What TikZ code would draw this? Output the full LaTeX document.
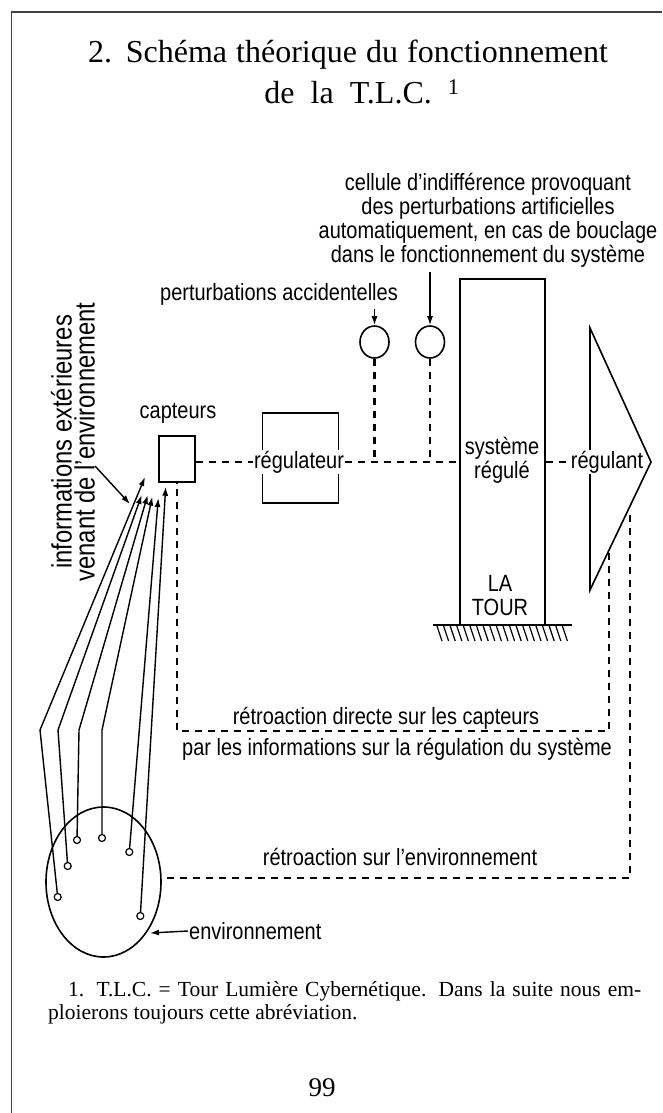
\documentclass[tikz,border=0pt]{standalone}
\usepackage{fontspec}
\setmainfont{Liberation Serif}
\setsansfont{Liberation Sans}
\newfontfamily\lblfont[FakeStretch=0.85]{Liberation Sans}
\usetikzlibrary{arrows.meta,shapes.geometric}
\begin{document}
\begin{tikzpicture}[x=1pt,y=-1pt,
  lbl/.style={font=\lblfont\fontsize{23.5}{24}\selectfont, inner sep=1pt},
  ln/.style={line width=1.6pt},
  dsh/.style={line width=2.2pt, dash pattern=on 7pt off 6pt},
  arr/.style={line width=1.4pt, -{Latex[length=9pt,width=6pt]}},
  term/.style={draw, circle, line width=1.2pt, minimum size=7pt, inner sep=0pt, fill=white},
  smallc/.style={draw, ln, ellipse, minimum width=29pt, minimum height=32pt, inner sep=0pt}
]
\path[use as bounding box] (0,0) rectangle (662,1113);
% frame
\draw[line width=1.5pt, black!75] (662,12) -- (11.5,12) -- (11.5,1113);

% title
\node[font=\fontsize{32}{36}\selectfont, anchor=base] (t1) at (348,63) {\makebox[520pt][s]{2. Schéma théorique du fonctionnement}};
\node[font=\fontsize{32}{36}\selectfont, anchor=base] (t2) at (362,104) {de\ \ la\ \ T.L.C.\ \ \textsuperscript{1}};

% labels at top
\node[lbl, align=center] (cel) at (488,220) {cellule d’indifférence provoquant\\des perturbations artificielles\\automatiquement, en cas de bouclage\\dans le fonctionnement du système};
\node[lbl] (pa) at (279,294) {perturbations accidentelles};

% perturbation cells
\node[smallc] (c1) at (374.5,342) {};
\node[smallc] (c2) at (430,342) {};
\draw[arr] ([yshift=-3pt]c1 |- pa.south) -- (c1.north);
\draw[arr] ([yshift=-4pt]c2 |- cel.south) -- (c2.north);

% capteurs
\node[draw, ln, minimum width=36pt, minimum height=46pt, inner sep=0pt] (cap) at (177,459) {};
\node[lbl] (capl) at (178,413) {capteurs};

% regulateur
\node[draw, ln, minimum width=76pt, minimum height=90pt, inner sep=0pt] (reg) at (300.5,458) {};
\node[lbl, fill=white, inner sep=0.5pt] (regl) at (299,462) {régulateur};

% tower
\node[draw, ln, minimum width=85pt, minimum height=346pt, inner sep=0pt] (tower) at (502.5,452) {};
\node[lbl, align=center] (sr) at (502,460) {système\\régulé};
\node[lbl, align=center] (lt) at (500,596) {LA\\TOUR};
\draw[ln] (433,625) -- (572,625);
\foreach \x in {437,443.6,...,566} \draw[line width=1.2pt] (\x,626) -- ({\x+5},641);

% regulant triangle
\coordinate (trA) at (590,328);
\coordinate (trB) at (651,462);
\coordinate (trC) at (590,590);
\draw[ln, line join=miter] (trA) -- (trB) -- (trC) -- cycle;
\node[lbl, fill=white, inner sep=0.5pt] (rgl) at (607,462) {régulant};

% main dashed chain
\draw[dsh] (cap.east |- regl.west) -- (regl.west);
\draw[dsh] (regl.east) -- (tower.west |- regl.east);
\draw[dsh] (tower.east |- rgl.west) -- (rgl.west);
\draw[dsh] (c1.south) -- (c1 |- regl.east);
\draw[dsh] (c2.south) -- (c2 |- regl.east);

% environment
\node[draw, ln, ellipse, minimum width=115pt, minimum height=150pt, inner sep=0pt] (env) at (103.5,882) {};

% feedback loops
\coordinate (fA) at (609,553);
\coordinate (fAc) at (609,731);
\coordinate (fAd) at (177,731);
\draw[dsh] (fA) -- (fAc) -- (fAd) -- (cap.south);
\coordinate (fB) at (630,515);
\coordinate (fBc) at (630,878);
\coordinate (fBe) at (161,878);
\draw[dsh] (fB) -- (fBc) -- (fBe);

\node[lbl] (rd) at (386,718) {rétroaction directe sur les capteurs};
\node[lbl] (pi) at (397,749) {par les informations sur la régulation du système};
\node[lbl] (re) at (400,857) {rétroaction sur l’environnement};

% environment terminals and information lines
\coordinate (b1) at (40,730);
\coordinate (b2) at (58,730);
\coordinate (b3) at (79,730);
\coordinate (b4) at (102,730);
\coordinate (h1) at (145,477);
\coordinate (h2) at (141.7,495);
\coordinate (h3) at (147.7,495);
\coordinate (h4) at (152.3,496.7);
\coordinate (h5) at (158.3,498);
\coordinate (h6) at (165.7,486.7);
\node[term] (p1) at (57.7,897) {};
\node[term] (p2) at (67.7,866) {};
\node[term] (p3) at (77,840) {};
\node[term] (p4) at (102,838) {};
\node[term] (p5) at (129.3,852) {};
\node[term] (p6) at (140.3,916) {};
\draw[arr] (p1) -- (b1) -- (h1);
\draw[arr] (p2) -- (b2) -- (h2);
\draw[arr] (p3) -- (b3) -- (h3);
\draw[arr] (p4) -- (b4) -- (h4);
\draw[arr] (p5) -- (h5);
\draw[arr] (p6) -- (h6);

% informations label
\node[font=\lblfont\fontsize{28}{23}\selectfont, rotate=90, align=center, inner sep=0pt] (info) at (73,442) {informations extérieures\\venant de l’environnement};
\coordinate (ia) at (95,466);
\coordinate (ib) at (130,504);
\draw[arr] (ia) -- (ib);

% environnement label
\node[lbl, anchor=west] (el) at (188,931) {environnement};
\coordinate (et) at (150,933);
\draw[arr] (el.west) -- (et);

% footnote
\node[font=\fontsize{21.5}{23}\selectfont, anchor=base west, inner sep=0pt] (fn1) at (68,996) {\makebox[573pt][s]{1. T.L.C. = Tour Lumière Cybernétique. Dans la suite nous em-}};
\node[font=\fontsize{21.5}{23}\selectfont, anchor=base west, inner sep=0pt] (fn2) at (48,1019) {ploierons toujours cette abréviation.};
\node[font=\fontsize{27}{30}\selectfont] (pg) at (322,1088) {99};
\end{tikzpicture}
\end{document}
